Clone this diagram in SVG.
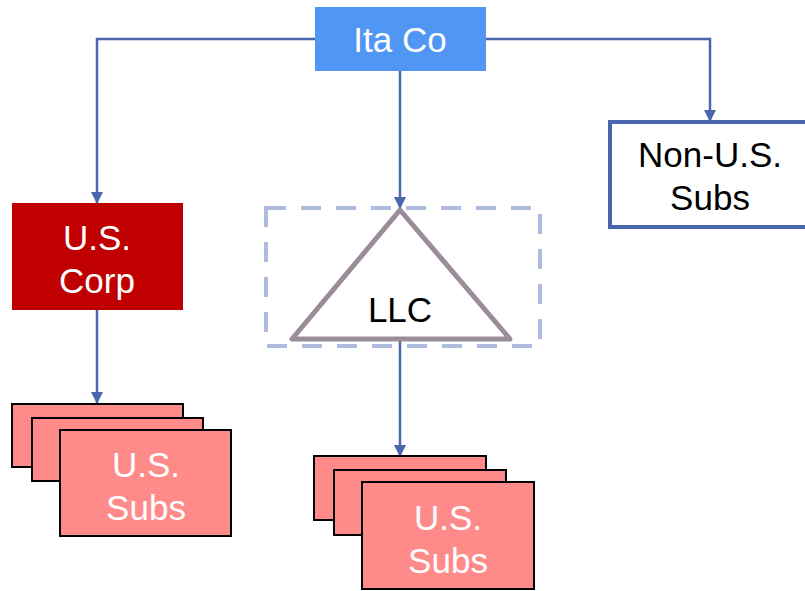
<svg xmlns="http://www.w3.org/2000/svg" width="805" height="591" viewBox="0 0 805 591">
<style>
text{font-family:"Liberation Sans",Arial,sans-serif;font-size:35px;text-anchor:middle}
.w{fill:#ffffff}
.k{fill:#000000}
.conn{fill:none;stroke:#4a66ad;stroke-width:2.5}
.sub{fill:#ff8a8a;stroke:#000000;stroke-width:2}
</style>
<defs>
<marker id="ah" markerWidth="12" markerHeight="12" refX="11" refY="6" orient="auto" markerUnits="userSpaceOnUse">
<path d="M0,0 L12,6 L0,12 Z" fill="#4a66ad"/>
</marker>
</defs>
<rect width="805" height="591" fill="#ffffff"/>
<g id="connectors">
<path class="conn" d="M315,39 H97 V203" marker-end="url(#ah)"/>
<path class="conn" d="M486,39 H710 V121" marker-end="url(#ah)"/>
<path class="conn" d="M400,71 V208" marker-end="url(#ah)"/>
<path class="conn" d="M97,310 V403" marker-end="url(#ah)"/>
<path class="conn" d="M400,340 V456" marker-end="url(#ah)"/>
</g>
<g id="itaco">
<rect x="315" y="7" width="171" height="64" fill="#4f96f5"/>
<text class="w" x="400" y="52">Ita Co</text>
</g>
<g id="nonus">
<rect x="610" y="122" width="200" height="105" fill="#ffffff" stroke="#4a66ad" stroke-width="4"/>
<text class="k" x="710" y="167">Non-U.S.</text>
<text class="k" x="710" y="210">Subs</text>
</g>
<g id="uscorp">
<rect x="12" y="203" width="171" height="107" fill="#c00000"/>
<text class="w" x="97" y="250">U.S.</text>
<text class="w" x="97" y="293">Corp</text>
</g>
<g id="llc">
<rect x="266" y="208" width="274" height="138" fill="none" stroke="#aebbdf" stroke-width="4" stroke-dasharray="20,15"/>
<path d="M400,210 L292,339 L510,339 Z" fill="#ffffff" stroke="#9a8c98" stroke-width="5" stroke-linejoin="round"/>
<text class="k" x="400" y="322">LLC</text>
</g>
<g id="ussubs1">
<rect class="sub" x="12" y="404" width="171" height="63"/>
<rect class="sub" x="32" y="418" width="171" height="63"/>
<rect class="sub" x="60" y="430" width="171" height="106"/>
<text class="w" x="146" y="477">U.S.</text>
<text class="w" x="146" y="520">Subs</text>
</g>
<g id="ussubs2">
<rect class="sub" x="314" y="456" width="172" height="64"/>
<rect class="sub" x="334" y="470" width="172" height="65"/>
<rect class="sub" x="362" y="482" width="172" height="107"/>
<text class="w" x="448" y="530">U.S.</text>
<text class="w" x="448" y="573">Subs</text>
</g>
</svg>
